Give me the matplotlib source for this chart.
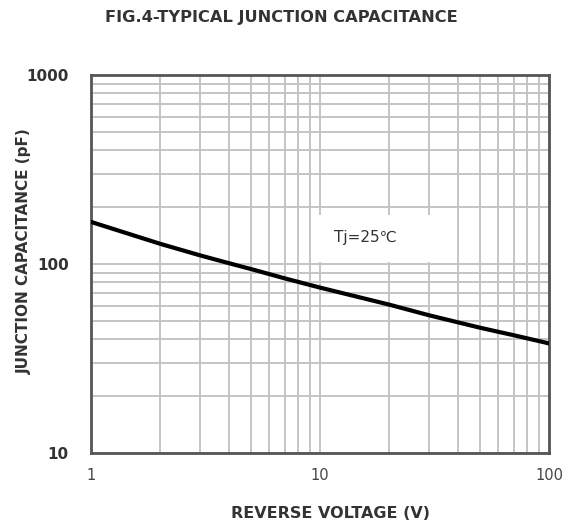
import matplotlib
matplotlib.use("Agg")
import matplotlib.pyplot as plt
from matplotlib.patches import Rectangle
from matplotlib.ticker import FixedLocator, LogLocator, NullFormatter

# data
voltage = [1, 2, 3, 4, 5, 7, 10, 20, 30, 50, 70, 100]
capacitance = [167, 128, 111, 101, 94, 84, 75, 61, 53.5, 46, 42, 38]

x_ticks = [1, 10, 100]
x_labels = ["1", "10", "100"]
y_ticks = [10, 100, 1000]
y_labels = ["10", "100", "1000"]

fig = plt.figure(figsize=(5.74, 5.24), dpi=100)
ax = fig.add_axes([0.1585, 0.1355, 0.798, 0.7214])
ax.set_xscale("log")
ax.set_yscale("log")
ax.set_xlim(1, 100)
ax.set_ylim(10, 1000)

ax.xaxis.set_major_locator(FixedLocator(x_ticks))
ax.yaxis.set_major_locator(FixedLocator(y_ticks))
ax.xaxis.set_minor_locator(LogLocator(base=10, subs=range(2, 10)))
ax.yaxis.set_minor_locator(LogLocator(base=10, subs=range(2, 10)))
ax.xaxis.set_minor_formatter(NullFormatter())
ax.yaxis.set_minor_formatter(NullFormatter())
ax.set_xticklabels(x_labels, fontsize=10.5, color="#444444")
ax.set_yticklabels(y_labels, fontweight="bold", fontsize=11, color="#333333")
ax.tick_params(which="both", length=0)
ax.tick_params(axis="x", pad=11)
ax.tick_params(axis="y", pad=16)

ax.grid(True, which="both", color="#c4c4c4", linewidth=1.4)
ax.set_axisbelow(True)
for sp in ax.spines.values():
    sp.set_color("#555555")
    sp.set_linewidth(2)

ax.plot(voltage, capacitance, color="black", linewidth=3, zorder=4)

# label box covering the grid
ax.add_patch(Rectangle((0.48, 0.505), 0.27, 0.125, transform=ax.transAxes,
                       facecolor="white", edgecolor="none", zorder=2))
ax.text(0.598, 0.569, "Tj=25℃", transform=ax.transAxes, fontsize=11,
        color="#333333", ha="center", va="center", zorder=3)

fig.text(0.49, 0.966, "FIG.4-TYPICAL JUNCTION CAPACITANCE", ha="center",
         va="center", fontsize=11.7, fontweight="bold", color="#333333")
ax.set_xlabel("REVERSE VOLTAGE (V)", fontsize=11.5, fontweight="bold",
              color="#333333")
ax.xaxis.set_label_coords(0.522, -0.14)
ax.set_ylabel("JUNCTION CAPACITANCE (pF)", fontsize=11, fontweight="bold",
              color="#333333")
ax.yaxis.set_label_coords(-0.129, 0.534)

fig.savefig("out.png", dpi=100)
